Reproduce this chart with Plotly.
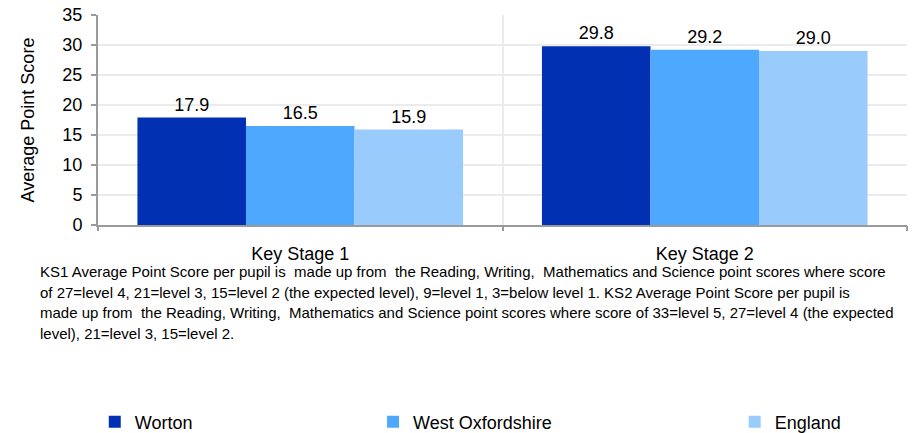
import plotly.graph_objects as go

categories = ["Key Stage 1", "Key Stage 2"]
series_names = ["Worton", "West Oxfordshire", "England"]
worton = [17.9, 29.8]
west_oxfordshire = [16.5, 29.2]
england = [15.9, 29.0]
colors = ["#0230B2", "#4EA8FE", "#99CBFD"]
y_ticks = [0, 5, 10, 15, 20, 25, 30, 35]

note_lines = [
    "KS1 Average Point Score per pupil is  made up from  the Reading, Writing,  Mathematics and Science point scores where score",
    "of 27=level 4, 21=level 3, 15=level 2 (the expected level), 9=level 1, 3=below level 1. KS2 Average Point Score per pupil is",
    "made up from  the Reading, Writing,  Mathematics and Science point scores where score of 33=level 5, 27=level 4 (the expected",
    "level), 21=level 3, 15=level 2.",
]
note_y = [-0.2238, -0.3214, -0.419, -0.5167]

FONT = "Liberation Sans, Arial, sans-serif"
GRID = "#ebebeb"
AXIS = "#9a9a9a"

fig = go.Figure()
legend_ids = ["legend", "legend2", "legend3"]
for name, vals, col, lg in zip(series_names, [worton, west_oxfordshire, england], colors, legend_ids):
    fig.add_trace(go.Bar(
        x=categories, y=vals, name=name, marker=dict(color=col, line=dict(width=0)),
        texttemplate="%{y:.1f}", textposition="outside", cliponaxis=False,
        textfont=dict(size=18, color="#000", family=FONT), legend=lg,
    ))

# helper trace for boundary grid lines / ticks
fig.add_trace(go.Scatter(x=[0, 2], y=[None, None], xaxis="x2", mode="lines",
                         showlegend=False, hoverinfo="skip"))

legend_common = dict(orientation="h", yanchor="middle", y=-0.938, xanchor="left",
                     font=dict(size=18, family=FONT, color="#000"), bgcolor="rgba(0,0,0,0)")

annotations = [dict(text=t, xref="paper", yref="paper", x=-0.074, y=yy,
                    xanchor="left", yanchor="middle", align="left", showarrow=False,
                    font=dict(size=15, family=FONT, color="#000"))
               for t, yy in zip(note_lines, note_y)]

fig.update_layout(
    width=917, height=433,
    margin=dict(l=98, r=10, t=15, b=208, autoexpand=False),
    paper_bgcolor="white", plot_bgcolor="white",
    barmode="group", bargap=0.195, bargroupgap=0,
    font=dict(family=FONT, color="#000"),
    xaxis=dict(type="category", range=[-0.5, 1.5], showline=True, linecolor=AXIS, linewidth=2,
               ticks="", showgrid=False, tickfont=dict(size=18, color="#000"),
               ticklabelstandoff=11, fixedrange=True),
    xaxis2=dict(overlaying="x", side="bottom", range=[0, 2], dtick=1, tick0=0,
                showticklabels=False, ticks="outside", ticklen=5, tickcolor=AXIS, tickwidth=2,
                showgrid=True, gridcolor=GRID, gridwidth=2, zeroline=False, showline=False),
    yaxis=dict(range=[0, 35], tickvals=y_ticks, showline=True, linecolor=AXIS, linewidth=2,
               ticks="outside", ticklen=5, tickcolor=AXIS, tickwidth=2,
               showgrid=True, gridcolor=GRID, gridwidth=2, zeroline=False,
               tickfont=dict(size=18, color="#000"), ticklabelstandoff=5,
               title=dict(text="Average Point Score", font=dict(size=18, color="#000"), standoff=23)),
    legend=dict(x=-0.004, **legend_common),
    legend2=dict(x=0.34, **legend_common),
    legend3=dict(x=0.787, **legend_common),
    annotations=annotations,
    showlegend=True,
)

fig.write_html("out.html", config={"displayModeBar": False},
               post_script="document.body.style.margin='0';document.body.style.overflow='hidden';")
